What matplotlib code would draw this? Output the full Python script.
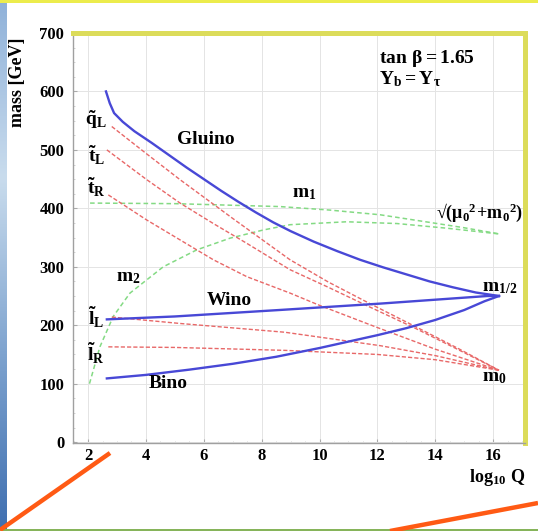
import numpy as np
import matplotlib
matplotlib.use("Agg")
import matplotlib.pyplot as plt
from matplotlib.lines import Line2D
from matplotlib.patches import Rectangle
from matplotlib.colors import LinearSegmentedColormap

plt.rcParams['font.family'] = ['Liberation Serif', 'DejaVu Serif']
plt.rcParams['font.weight'] = 'bold'
plt.rcParams['mathtext.fontset'] = 'custom'
plt.rcParams['mathtext.rm'] = 'Liberation Serif:bold'
plt.rcParams['mathtext.it'] = 'Liberation Serif:bold'
plt.rcParams['mathtext.bf'] = 'Liberation Serif:bold'

# ---------------- data ----------------
gluino_x = [2.62, 2.75, 2.9, 3.2, 3.6, 4.2, 4.8, 5.4, 6.0, 6.6, 7.2, 7.8, 8.4, 9.0,
            9.8, 10.6, 11.4, 12.2, 13.0, 13.8, 14.6, 15.4, 16.2]
gluino_y = [600, 580, 563, 548, 532, 512, 491, 470, 450, 430, 411, 393, 376, 361,
            343, 327, 312, 299, 287, 275, 265, 256, 250]

wino_x = [2.65, 5.0, 8.6, 12.1, 15.8, 16.2]
wino_y = [210, 215, 226, 237, 250, 250]

bino_x = [2.65, 4.0, 5.5, 7.0, 8.5, 10.0, 11.0, 12.0, 13.0, 14.0, 15.0, 15.7, 16.2]
bino_y = [109, 115, 124, 134, 146, 161, 172, 183, 195, 209, 226, 241, 250]

qL_x = [2.82, 4.03, 5.18, 7.02, 8.98, 10.3, 11.7, 13.3, 14.8, 16.2]
qL_y = [540, 493, 449, 382, 312, 274, 238, 198, 160, 123]

tL_x = [2.65, 4.03, 5.18, 6.33, 7.49, 8.98, 10.3, 11.7, 13.3, 14.8, 16.2]
tL_y = [500, 449, 409, 374, 340, 295, 265, 232, 195, 158, 123]

tR_x = [2.70, 4.03, 5.18, 6.33, 7.49, 8.98, 10.0, 12.0, 14.0, 16.2]
tR_y = [423, 380, 346, 312, 283, 255, 234, 196, 159, 123]

lL_x = [2.82, 5.18, 8.8, 12.1, 14.0, 16.2]
lL_y = [214, 203, 188, 165, 148, 123]

lR_x = [2.70, 5.0, 8.8, 12.0, 14.0, 16.2]
lR_y = [163, 162, 157, 150, 141, 123]

m1_x = [2.07, 5.0, 8.64, 10.36, 12.09, 13.8, 14.97, 16.24]
m1_y = [409, 408, 403, 397, 389, 376, 367, 356]

m2_x = [2.05, 2.41, 2.87, 3.45, 4.6, 5.76, 6.91, 8.06, 8.98, 10.94, 12.67, 14.4, 16.24]
m2_y = [100, 163, 215, 255, 300, 329, 349, 363, 372, 377, 374, 366, 356]

x_ticks = [2, 4, 6, 8, 10, 12, 14, 16]
y_ticks = [0, 100, 200, 300, 400, 500, 600, 700]

# ---------------- figure ----------------
W, H = 538, 531
fig = plt.figure(figsize=(W / 100, H / 100), dpi=100)
fig.patch.set_facecolor('white')

# slide decorations
strip = fig.add_axes([0, 0, 7 / W, 1])
grad = np.linspace(0, 1, 256).reshape(-1, 1)
cm = LinearSegmentedColormap.from_list('s', ['#8fb1d9', '#c9dced', '#7ea3cf', '#3f6fb0'])
strip.imshow(grad, aspect='auto', cmap=cm, extent=[0, 1, 0, 1], origin='upper')
strip.axis('off')
fig.add_artist(Rectangle((0, 1 - 3 / H), 1, 3 / H, transform=fig.transFigure,
                         color='#ecec4c', lw=0))
fig.add_artist(Rectangle((0, 0), 1, 2 / H, transform=fig.transFigure,
                         color='#86b45a', lw=0))
fig.add_artist(Line2D([0, 110 / W], [1 - 530 / H, 1 - 453 / H], transform=fig.transFigure,
                      color='#ff5a14', lw=3.2, solid_capstyle='butt'))
fig.add_artist(Line2D([390 / W, 1], [1 - 531 / H, 1 - 503 / H], transform=fig.transFigure,
                      color='#ff5a14', lw=3.2, solid_capstyle='butt'))

ax = fig.add_axes([72.7 / W, 1 - 442.7 / H, (525 - 72.7) / W, (442.7 - 33) / H])
ax.set_xlim(1.47, 17.1)
ax.set_ylim(-1, 700)
ax.set_xticks(x_ticks)
ax.set_yticks(y_ticks)
ax.set_xticks(np.arange(1.5, 17.1, 0.5), minor=True)
ax.set_yticks(np.arange(0, 701, 25), minor=True)
ax.grid(True, which='major', color='#e4e4e4', lw=0.7)
ax.set_axisbelow(True)
ax.tick_params(axis='both', which='major', labelsize=12, length=3, color='#aaaaaa',
               direction='in')
ax.tick_params(axis='x', which='major', pad=4)
ax.tick_params(axis='y', which='major', pad=6)
ax.tick_params(axis='both', which='minor', length=1.5, color='#cccccc', direction='in')
for lab in ax.get_xticklabels() + ax.get_yticklabels():
    lab.set_fontweight('bold')
for s in ['left', 'bottom']:
    ax.spines[s].set_color('#a0a0a0')
    ax.spines[s].set_linewidth(1.0)
for s in ['top', 'right']:
    ax.spines[s].set_color('#dcdc5a')
    ax.spines[s].set_linewidth(3.6)

blue = '#4848d6'
red = '#e86868'
green = '#84da84'

for xs, ys in [(m1_x, m1_y), (m2_x, m2_y)]:
    ax.plot(xs, ys, color=green, lw=1.1, ls=(0, (3, 2)))
for xs, ys in [(qL_x, qL_y), (tL_x, tL_y), (tR_x, tR_y), (lL_x, lL_y), (lR_x, lR_y)]:
    ax.plot(xs, ys, color=red, lw=1.0, ls=(0, (3, 1.5)))
for xs, ys in [(gluino_x, gluino_y), (wino_x, wino_y), (bino_x, bino_y)]:
    ax.plot(xs, ys, color=blue, lw=1.7)

fs = 14
ax.text(6.08, 517, 'Gluino', fontsize=fs, ha='center', va='center', fontweight='bold')
ax.text(6.87, 243, 'Wino', fontsize=fs, ha='center', va='center', fontweight='bold')
ax.text(4.76, 101, 'Bino', fontsize=fs, ha='center', va='center', fontweight='bold')
ax.text(3.38, 281, r'$\mathrm{m}_2$', fontsize=fs, ha='center', va='center')
ax.text(9.47, 426, r'$\mathrm{m}_1$', fontsize=fs, ha='center', va='center')
ax.text(17.02, 392, '√' + r'$(\mu_0{}^2\!+\!\mathrm{m}_0{}^2)$', fontsize=13, ha='right', va='center')
ax.text(15.6, 265, r'$\mathrm{m}_{1/2}$', fontsize=fs, ha='left', va='center')
ax.text(15.6, 110, r'$\mathrm{m}_0$', fontsize=fs, ha='left', va='center')
ax.text(12.05, 657, r'$\mathrm{tan}\ \beta = 1.65$', fontsize=fs, ha='left', va='center')
ax.text(12.05, 621, r'$\mathrm{Y}_\mathrm{b} = \mathrm{Y}_\tau$', fontsize=fs, ha='left', va='center')

ax.text(2.28, 551, r'$\tilde{\mathrm{q}}_\mathrm{L}$', fontsize=fs, ha='center', va='center')
ax.text(2.28, 491, r'$\tilde{\mathrm{t}}_\mathrm{L}$', fontsize=fs, ha='center', va='center')
ax.text(2.28, 435, r'$\tilde{\mathrm{t}}_\mathrm{R}$', fontsize=fs, ha='center', va='center')
ax.text(2.28, 214, r'$\tilde{\mathrm{l}}_\mathrm{L}$', fontsize=fs, ha='center', va='center')
ax.text(2.28, 152, r'$\tilde{\mathrm{l}}_\mathrm{R}$', fontsize=fs, ha='center', va='center')

fig.text(18 / W, 1 - 82 / H, 'mass [GeV]', rotation=90, fontsize=13, fontweight='bold',
         ha='center', va='center')
fig.text(497 / W, 1 - 478 / H, r'$\mathrm{log}_{10}\ \mathrm{Q}$', fontsize=13,
         ha='center', va='center')

fig.savefig('out.png', dpi=100)
